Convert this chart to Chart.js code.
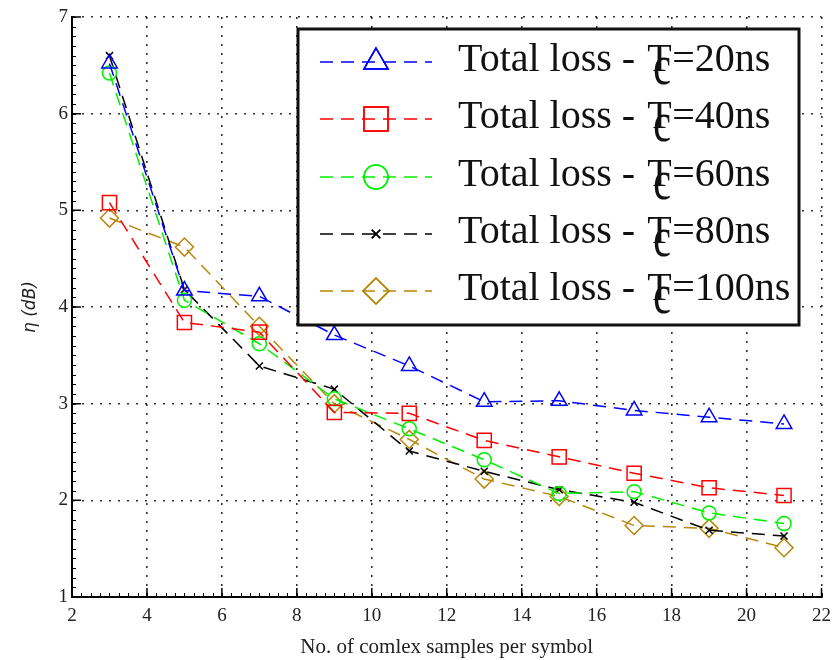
<!DOCTYPE html>
<html>
<head>
<meta charset="utf-8">
<script src="https://cdn.jsdelivr.net/npm/chart.js@4"></script>
<style>
  html, body { margin: 0; padding: 0; background: #fff; }
  #wrap { width: 839px; height: 660px; position: relative; }
</style>
</head>
<body>
<div id="wrap"><canvas id="lossChart"></canvas></div>
<script>
// === Data ===
const samples = [3, 5, 7, 9, 11, 13, 15, 17, 19, 21];
const loss20 = [6.52, 4.17, 4.11, 3.71, 3.39, 3.02, 3.03, 2.93, 2.86, 2.79];
const loss40 = [5.08, 3.84, 3.74, 2.91, 2.90, 2.62, 2.45, 2.28, 2.13, 2.05];
const loss60 = [6.42, 4.07, 3.62, 3.05, 2.74, 2.42, 2.07, 2.09, 1.87, 1.76];
const loss80 = [6.60, 4.18, 3.39, 3.15, 2.51, 2.30, 2.11, 1.98, 1.69, 1.63];
const loss100 = [4.92, 4.62, 3.80, 3.00, 2.63, 2.22, 2.04, 1.74, 1.71, 1.51];
const legendValues = ['20ns', '40ns', '60ns', '80ns', '100ns'];
const xTicks = [2, 4, 6, 8, 10, 12, 14, 16, 18, 20, 22];
const yTicks = [1, 2, 3, 4, 5, 6, 7];

const DASH = [13, 8];
const serif = '"Liberation Serif", "Times New Roman", serif';

function series(label, values, color, style, radius, legendRadius) {
  return {
    label: label,
    data: samples.map((x, i) => ({ x: x, y: values[i] })),
    borderColor: color,
    backgroundColor: 'rgba(0,0,0,0)',
    borderWidth: 1.5,
    borderDash: DASH,
    pointStyle: style,
    pointRadius: radius,
    pointBorderWidth: 1.5,
    pointBorderColor: color,
    pointBackgroundColor: 'rgba(0,0,0,0)',
    legendRadius: legendRadius,
    tension: 0
  };
}

const datasets = [
  series(legendValues[0], loss20, '#0000ff', 'triangle', 9, 14),
  series(legendValues[1], loss40, '#ff0000', 'rect', 10, 17),
  series(legendValues[2], loss60, '#00f000', 'circle', 7, 12),
  series(legendValues[3], loss80, '#000000', 'crossRot', 5, 6),
  series(legendValues[4], loss100, '#b8860b', 'rectRot', 9, 13)
];

// === Minor + inward major ticks along left/bottom axes ===
const axisTicks = {
  id: 'axisTicks',
  afterDraw(chart) {
    const { ctx, chartArea: a, scales: { x, y } } = chart;
    ctx.save();
    ctx.setLineDash([]);
    ctx.strokeStyle = '#000';
    ctx.lineWidth = 1;
    ctx.beginPath();
    for (let v = 2; v <= 22.001; v += 0.25) {
      const px = Math.round(x.getPixelForValue(v)) + 0.5;
      ctx.moveTo(px, a.bottom);
      ctx.lineTo(px, a.bottom - 4);
    }
    for (let v = 1; v <= 7.001; v += 0.1) {
      const py = Math.round(y.getPixelForValue(v)) + 0.5;
      ctx.moveTo(a.left, py);
      ctx.lineTo(a.left + 4, py);
    }
    ctx.stroke();
    ctx.lineWidth = 1.5;
    ctx.beginPath();
    xTicks.forEach(v => {
      const px = x.getPixelForValue(v);
      ctx.moveTo(px, a.bottom);
      ctx.lineTo(px, a.bottom - 9);
    });
    yTicks.forEach(v => {
      const py = y.getPixelForValue(v);
      ctx.moveTo(a.left, py);
      ctx.lineTo(a.left + 9, py);
    });
    ctx.stroke();
    ctx.restore();
  }
};

// === Boxed legend with T_c subscript ===
const boxLegend = {
  id: 'boxLegend',
  afterDatasetsDraw(chart) {
    const ctx = chart.ctx;
    const bx = 298, by = 29, bw = 501, bh = 296;
    ctx.save();
    ctx.fillStyle = '#fff';
    ctx.fillRect(bx, by, bw, bh);
    ctx.lineWidth = 3;
    ctx.strokeStyle = '#111';
    ctx.strokeRect(bx, by, bw, bh);

    const rowY = [62, 119, 177, 234, 291];
    chart.data.datasets.forEach((ds, i) => {
      const yy = rowY[i];
      ctx.strokeStyle = ds.borderColor;
      ctx.lineWidth = 1.5;
      ctx.setLineDash(DASH);
      ctx.beginPath();
      ctx.moveTo(320, yy);
      ctx.lineTo(432, yy);
      ctx.stroke();
      ctx.setLineDash([]);
      ctx.fillStyle = 'rgba(0,0,0,0)';
      Chart.helpers.drawPoint(ctx, {
        pointStyle: ds.pointStyle, radius: ds.legendRadius, rotation: 0, borderWidth: 1.5
      }, 376, yy);
      ctx.stroke();

      ctx.fillStyle = '#111';
      ctx.textBaseline = 'alphabetic';
      ctx.font = '40px ' + serif;
      const base = yy + 9;
      const lead = 'Total loss - ';
      ctx.fillText(lead, 458, base);
      const tx = 458 + ctx.measureText(lead).width + 2;
      ctx.fillText('T', tx, base);
      ctx.save();
      ctx.translate(tx + 6, base + 13);
      ctx.scale(1, 1.4);
      ctx.font = '40px ' + serif;
      ctx.fillText('c', 0, 0);
      ctx.restore();
      ctx.font = '40px ' + serif;
      ctx.fillText('=' + ds.label, tx + 25, base);
    });
    ctx.restore();
  }
};

new Chart(document.getElementById('lossChart'), {
  type: 'line',
  data: { datasets: datasets },
  plugins: [axisTicks, boxLegend],
  options: {
    responsive: true,
    maintainAspectRatio: false,
    animation: false,
    layout: { padding: { left: 0, right: 17, top: 17, bottom: 0 } },
    plugins: { legend: { display: false }, tooltip: { enabled: false } },
    scales: {
      x: {
        type: 'linear',
        min: 2, max: 22,
        afterBuildTicks: s => { s.ticks = xTicks.map(v => ({ value: v })); },
        afterFit: s => { s.height = 63; },
        ticks: { color: '#222', font: { family: serif, size: 19 }, padding: 8 },
        grid: { color: '#333', lineWidth: 1.6, drawTicks: false },
        border: { display: true, color: '#000', width: 2, dash: [2, 7] },
        title: {
          display: true,
          text: 'No. of comlex samples per symbol',
          color: '#222',
          font: { family: serif, size: 21 },
          padding: { top: 2, bottom: 0 }
        }
      },
      y: {
        type: 'linear',
        min: 1, max: 7,
        afterBuildTicks: s => { s.ticks = yTicks.map(v => ({ value: v })); },
        afterFit: s => { s.width = 72; },
        ticks: { color: '#222', font: { family: serif, size: 19 }, padding: 4 },
        grid: { color: '#333', lineWidth: 1.6, drawTicks: false },
        border: { display: true, color: '#000', width: 2, dash: [2, 7] },
        title: {
          display: true,
          text: 'η (dB)',
          color: '#222',
          font: { family: '"DejaVu Sans", sans-serif', size: 17, style: 'italic' },
          padding: { top: 20, bottom: 0 }
        }
      }
    }
  }
});
</script>
</body>
</html>
